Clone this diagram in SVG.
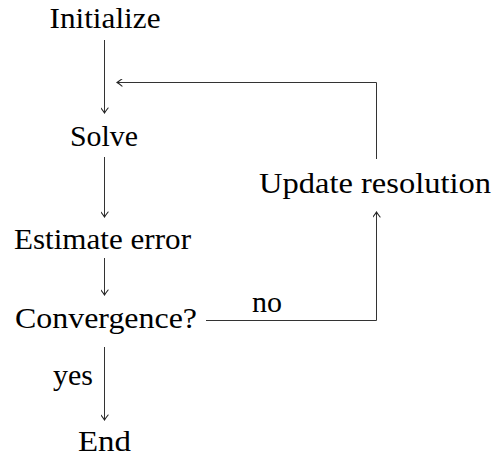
<svg xmlns="http://www.w3.org/2000/svg" width="495" height="459" viewBox="0 0 495 459">
<defs>
<marker id="arr" viewBox="-6 -4 7 8" markerWidth="7" markerHeight="8" refX="0" refY="0" orient="auto" markerUnits="userSpaceOnUse">
<path d="M-5,-3.6 Q-1.6,-0.9 0,0 Q-1.6,0.9 -5,3.6" fill="none" stroke="#222" stroke-width="1.1" stroke-linecap="round"/>
</marker>
<style>
.c{fill:none;stroke:#333;stroke-width:1}
</style>
</defs>
<rect width="495" height="459" fill="#fff"/>
<g font-family="Liberation Serif, serif" font-size="29" fill="#000" text-anchor="middle">
<g id="connectors">
<path class="c" d="M104.5,40 V113" marker-end="url(#arr)"/>
<path class="c" d="M104.5,157 V217" marker-end="url(#arr)"/>
<path class="c" d="M104.5,258 V295" marker-end="url(#arr)"/>
<path class="c" d="M104.5,347 V420" marker-end="url(#arr)"/>
<path class="c" d="M206,320.5 H376.5 V212" marker-end="url(#arr)"/>
<path class="c" d="M376.5,159 V82.5 H117" marker-end="url(#arr)"/>
<text x="267" y="311.5" textLength="30" lengthAdjust="spacingAndGlyphs">no</text>
<text x="73" y="385" textLength="40" lengthAdjust="spacingAndGlyphs">yes</text>
</g>
<g id="initialize"><text x="105" y="28.3" textLength="111" lengthAdjust="spacingAndGlyphs">Initialize</text></g>
<g id="solve"><text x="104" y="145.7" textLength="68" lengthAdjust="spacingAndGlyphs">Solve</text></g>
<g id="estimate"><text x="102.5" y="249" textLength="177" lengthAdjust="spacingAndGlyphs">Estimate error</text></g>
<g id="convergence"><text x="106" y="327.7" textLength="182" lengthAdjust="spacingAndGlyphs">Convergence?</text></g>
<g id="update"><text x="375" y="192.5" textLength="232" lengthAdjust="spacingAndGlyphs">Update resolution</text></g>
<g id="end"><text x="104.5" y="451" textLength="53" lengthAdjust="spacingAndGlyphs">End</text></g>
</g>
</svg>
